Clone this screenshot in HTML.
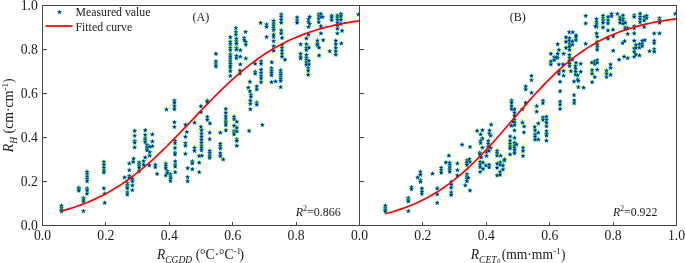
<!DOCTYPE html>
<html lang="en"><head><meta charset="utf-8"><title>Fitted curves</title>
<style>html,body{margin:0;padding:0;background:#fff}svg{display:block}</style></head>
<body>
<svg width="685" height="263" viewBox="0 0 685 263">
<defs><path id="s" d="M0.00,-2.10 L0.51,-0.60 L2.09,-0.58 L0.82,0.37 L1.29,1.88 L0.00,0.96 L-1.29,1.88 L-0.82,0.37 L-2.09,-0.58 L-0.51,-0.60 Z"/>
<clipPath id="ca"><rect x="42.5" y="5.5" width="317.0" height="220.0"/></clipPath>
<clipPath id="cb"><rect x="359.5" y="5.5" width="317.0" height="220.0"/></clipPath></defs>
<rect width="685" height="263" fill="#fff"/>
<g clip-path="url(#ca)" fill="#0000ff" stroke="#22ee22" stroke-width="0.9" paint-order="stroke" stroke-linejoin="miter">
<use href="#s" x="61.4" y="205.7"/>
<use href="#s" x="61.4" y="208.1"/>
<use href="#s" x="61.4" y="209.8"/>
<use href="#s" x="61.4" y="211.3"/>
<use href="#s" x="83.5" y="197.8"/>
<use href="#s" x="83.5" y="199.5"/>
<use href="#s" x="83.5" y="201.4"/>
<use href="#s" x="83.5" y="211.0"/>
<use href="#s" x="87.0" y="193.6"/>
<use href="#s" x="104.7" y="193.6"/>
<use href="#s" x="104.7" y="202.8"/>
<use href="#s" x="87.1" y="171.8"/>
<use href="#s" x="87.1" y="174.1"/>
<use href="#s" x="87.1" y="176.5"/>
<use href="#s" x="87.1" y="178.8"/>
<use href="#s" x="87.1" y="181.0"/>
<use href="#s" x="87.1" y="188.3"/>
<use href="#s" x="87.1" y="190.4"/>
<use href="#s" x="78.8" y="187.7"/>
<use href="#s" x="78.8" y="189.2"/>
<use href="#s" x="78.8" y="190.6"/>
<use href="#s" x="103.9" y="161.8"/>
<use href="#s" x="103.9" y="164.7"/>
<use href="#s" x="103.9" y="167.7"/>
<use href="#s" x="103.9" y="170.4"/>
<use href="#s" x="103.9" y="172.4"/>
<use href="#s" x="103.9" y="188.3"/>
<use href="#s" x="124.6" y="177.4"/>
<use href="#s" x="127.3" y="183.0"/>
<use href="#s" x="127.3" y="184.7"/>
<use href="#s" x="127.3" y="186.5"/>
<use href="#s" x="127.3" y="188.3"/>
<use href="#s" x="129.3" y="163.3"/>
<use href="#s" x="129.3" y="170.0"/>
<use href="#s" x="129.3" y="175.9"/>
<use href="#s" x="129.3" y="177.7"/>
<use href="#s" x="132.4" y="178.8"/>
<use href="#s" x="132.4" y="181.2"/>
<use href="#s" x="132.4" y="185.3"/>
<use href="#s" x="132.4" y="190.0"/>
<use href="#s" x="133.2" y="161.8"/>
<use href="#s" x="139.1" y="162.4"/>
<use href="#s" x="139.1" y="164.1"/>
<use href="#s" x="139.1" y="165.9"/>
<use href="#s" x="139.1" y="167.7"/>
<use href="#s" x="139.1" y="171.2"/>
<use href="#s" x="143.6" y="161.2"/>
<use href="#s" x="143.6" y="164.7"/>
<use href="#s" x="149.3" y="165.3"/>
<use href="#s" x="155.3" y="164.7"/>
<use href="#s" x="155.3" y="167.1"/>
<use href="#s" x="157.1" y="173.9"/>
<use href="#s" x="165.8" y="163.5"/>
<use href="#s" x="165.8" y="165.9"/>
<use href="#s" x="165.8" y="168.2"/>
<use href="#s" x="165.8" y="175.3"/>
<use href="#s" x="167.4" y="171.2"/>
<use href="#s" x="167.4" y="173.0"/>
<use href="#s" x="170.5" y="174.1"/>
<use href="#s" x="170.5" y="176.5"/>
<use href="#s" x="170.5" y="178.8"/>
<use href="#s" x="170.5" y="181.0"/>
<use href="#s" x="175.2" y="161.4"/>
<use href="#s" x="175.2" y="164.7"/>
<use href="#s" x="175.2" y="166.5"/>
<use href="#s" x="175.2" y="172.1"/>
<use href="#s" x="187.7" y="168.2"/>
<use href="#s" x="187.7" y="177.1"/>
<use href="#s" x="187.7" y="181.2"/>
<use href="#s" x="192.3" y="161.4"/>
<use href="#s" x="192.3" y="163.3"/>
<use href="#s" x="192.3" y="169.2"/>
<use href="#s" x="199.2" y="162.6"/>
<use href="#s" x="199.2" y="172.1"/>
<use href="#s" x="127.3" y="192.4"/>
<use href="#s" x="127.3" y="194.5"/>
<use href="#s" x="134.7" y="130.8"/>
<use href="#s" x="134.7" y="135.5"/>
<use href="#s" x="134.7" y="140.8"/>
<use href="#s" x="134.7" y="142.6"/>
<use href="#s" x="134.7" y="147.3"/>
<use href="#s" x="133.6" y="158.5"/>
<use href="#s" x="145.2" y="130.2"/>
<use href="#s" x="145.2" y="134.9"/>
<use href="#s" x="145.2" y="138.4"/>
<use href="#s" x="145.2" y="140.2"/>
<use href="#s" x="145.2" y="142.0"/>
<use href="#s" x="145.2" y="157.3"/>
<use href="#s" x="147.0" y="144.9"/>
<use href="#s" x="147.0" y="146.7"/>
<use href="#s" x="147.0" y="148.4"/>
<use href="#s" x="147.0" y="150.2"/>
<use href="#s" x="149.7" y="146.7"/>
<use href="#s" x="149.7" y="152.0"/>
<use href="#s" x="149.7" y="155.5"/>
<use href="#s" x="152.4" y="134.3"/>
<use href="#s" x="152.4" y="141.4"/>
<use href="#s" x="152.4" y="146.1"/>
<use href="#s" x="175.0" y="140.8"/>
<use href="#s" x="175.0" y="143.1"/>
<use href="#s" x="175.0" y="147.8"/>
<use href="#s" x="175.0" y="152.6"/>
<use href="#s" x="175.0" y="154.3"/>
<use href="#s" x="185.4" y="136.7"/>
<use href="#s" x="185.4" y="143.1"/>
<use href="#s" x="185.4" y="145.5"/>
<use href="#s" x="185.4" y="153.7"/>
<use href="#s" x="186.8" y="131.9"/>
<use href="#s" x="194.5" y="147.8"/>
<use href="#s" x="194.5" y="150.8"/>
<use href="#s" x="201.5" y="130.2"/>
<use href="#s" x="201.5" y="133.7"/>
<use href="#s" x="201.5" y="136.7"/>
<use href="#s" x="201.5" y="139.6"/>
<use href="#s" x="201.5" y="142.6"/>
<use href="#s" x="201.5" y="145.5"/>
<use href="#s" x="201.5" y="147.8"/>
<use href="#s" x="201.5" y="150.2"/>
<use href="#s" x="199.2" y="155.9"/>
<use href="#s" x="201.8" y="155.6"/>
<use href="#s" x="174.4" y="100.4"/>
<use href="#s" x="174.4" y="102.7"/>
<use href="#s" x="174.4" y="106.2"/>
<use href="#s" x="174.4" y="109.2"/>
<use href="#s" x="174.4" y="122.2"/>
<use href="#s" x="174.4" y="126.9"/>
<use href="#s" x="166.5" y="109.4"/>
<use href="#s" x="185.6" y="124.5"/>
<use href="#s" x="194.5" y="122.5"/>
<use href="#s" x="200.9" y="106.2"/>
<use href="#s" x="200.9" y="112.1"/>
<use href="#s" x="200.9" y="126.9"/>
<use href="#s" x="209.7" y="132.5"/>
<use href="#s" x="209.7" y="139.0"/>
<use href="#s" x="209.7" y="150.8"/>
<use href="#s" x="209.7" y="153.2"/>
<use href="#s" x="209.7" y="155.5"/>
<use href="#s" x="209.7" y="157.9"/>
<use href="#s" x="220.3" y="132.5"/>
<use href="#s" x="220.3" y="143.7"/>
<use href="#s" x="220.3" y="146.1"/>
<use href="#s" x="220.3" y="148.4"/>
<use href="#s" x="220.3" y="153.2"/>
<use href="#s" x="220.3" y="156.1"/>
<use href="#s" x="223.2" y="159.4"/>
<use href="#s" x="225.9" y="130.2"/>
<use href="#s" x="234.1" y="130.8"/>
<use href="#s" x="234.1" y="132.5"/>
<use href="#s" x="234.1" y="134.3"/>
<use href="#s" x="236.8" y="131.4"/>
<use href="#s" x="236.8" y="139.0"/>
<use href="#s" x="236.8" y="140.8"/>
<use href="#s" x="236.8" y="145.7"/>
<use href="#s" x="249.1" y="130.8"/>
<use href="#s" x="207.3" y="100.6"/>
<use href="#s" x="207.3" y="102.1"/>
<use href="#s" x="207.3" y="116.8"/>
<use href="#s" x="207.3" y="119.8"/>
<use href="#s" x="210.0" y="123.3"/>
<use href="#s" x="225.8" y="108.8"/>
<use href="#s" x="225.8" y="112.7"/>
<use href="#s" x="225.8" y="116.3"/>
<use href="#s" x="225.8" y="119.2"/>
<use href="#s" x="225.8" y="121.6"/>
<use href="#s" x="225.8" y="123.3"/>
<use href="#s" x="225.8" y="125.1"/>
<use href="#s" x="234.1" y="116.6"/>
<use href="#s" x="234.1" y="119.2"/>
<use href="#s" x="234.1" y="125.7"/>
<use href="#s" x="236.8" y="121.6"/>
<use href="#s" x="236.8" y="127.5"/>
<use href="#s" x="250.3" y="100.6"/>
<use href="#s" x="250.3" y="103.9"/>
<use href="#s" x="250.3" y="109.2"/>
<use href="#s" x="256.8" y="102.5"/>
<use href="#s" x="256.8" y="104.5"/>
<use href="#s" x="262.3" y="124.9"/>
<use href="#s" x="230.3" y="67.6"/>
<use href="#s" x="230.3" y="71.1"/>
<use href="#s" x="230.3" y="75.8"/>
<use href="#s" x="239.9" y="70.5"/>
<use href="#s" x="239.9" y="73.5"/>
<use href="#s" x="249.9" y="81.7"/>
<use href="#s" x="249.9" y="91.2"/>
<use href="#s" x="248.3" y="87.6"/>
<use href="#s" x="250.9" y="94.7"/>
<use href="#s" x="250.9" y="96.5"/>
<use href="#s" x="255.2" y="71.7"/>
<use href="#s" x="255.2" y="73.5"/>
<use href="#s" x="256.8" y="86.4"/>
<use href="#s" x="256.8" y="89.4"/>
<use href="#s" x="261.1" y="69.6"/>
<use href="#s" x="261.1" y="72.9"/>
<use href="#s" x="261.1" y="75.8"/>
<use href="#s" x="261.1" y="78.2"/>
<use href="#s" x="261.1" y="82.1"/>
<use href="#s" x="271.5" y="68.2"/>
<use href="#s" x="271.5" y="70.5"/>
<use href="#s" x="271.5" y="72.9"/>
<use href="#s" x="271.5" y="75.2"/>
<use href="#s" x="271.5" y="82.1"/>
<use href="#s" x="275.6" y="81.4"/>
<use href="#s" x="280.7" y="70.3"/>
<use href="#s" x="280.7" y="72.9"/>
<use href="#s" x="280.7" y="74.7"/>
<use href="#s" x="280.7" y="77.0"/>
<use href="#s" x="280.7" y="78.8"/>
<use href="#s" x="280.7" y="80.9"/>
<use href="#s" x="280.7" y="87.0"/>
<use href="#s" x="215.9" y="53.7"/>
<use href="#s" x="215.9" y="61.3"/>
<use href="#s" x="215.9" y="64.3"/>
<use href="#s" x="215.9" y="66.4"/>
<use href="#s" x="230.3" y="37.2"/>
<use href="#s" x="230.3" y="41.7"/>
<use href="#s" x="230.3" y="44.0"/>
<use href="#s" x="230.3" y="47.8"/>
<use href="#s" x="230.3" y="50.1"/>
<use href="#s" x="230.3" y="54.3"/>
<use href="#s" x="230.3" y="56.6"/>
<use href="#s" x="230.3" y="59.0"/>
<use href="#s" x="230.3" y="61.3"/>
<use href="#s" x="230.3" y="63.7"/>
<use href="#s" x="230.3" y="66.0"/>
<use href="#s" x="236.4" y="38.6"/>
<use href="#s" x="236.4" y="41.3"/>
<use href="#s" x="236.4" y="43.7"/>
<use href="#s" x="236.4" y="47.8"/>
<use href="#s" x="236.4" y="49.5"/>
<use href="#s" x="236.4" y="55.8"/>
<use href="#s" x="236.4" y="58.1"/>
<use href="#s" x="240.3" y="50.1"/>
<use href="#s" x="240.3" y="56.6"/>
<use href="#s" x="240.3" y="64.3"/>
<use href="#s" x="244.2" y="37.8"/>
<use href="#s" x="244.2" y="40.1"/>
<use href="#s" x="245.8" y="41.9"/>
<use href="#s" x="245.8" y="44.5"/>
<use href="#s" x="245.8" y="58.4"/>
<use href="#s" x="255.2" y="63.7"/>
<use href="#s" x="261.1" y="61.3"/>
<use href="#s" x="261.1" y="63.7"/>
<use href="#s" x="266.6" y="36.9"/>
<use href="#s" x="271.8" y="62.2"/>
<use href="#s" x="273.6" y="36.9"/>
<use href="#s" x="273.6" y="41.0"/>
<use href="#s" x="273.6" y="46.0"/>
<use href="#s" x="273.6" y="50.7"/>
<use href="#s" x="282.0" y="37.8"/>
<use href="#s" x="282.0" y="44.8"/>
<use href="#s" x="282.0" y="47.8"/>
<use href="#s" x="282.0" y="50.7"/>
<use href="#s" x="282.0" y="53.7"/>
<use href="#s" x="282.0" y="56.6"/>
<use href="#s" x="285.0" y="59.6"/>
<use href="#s" x="235.9" y="28.0"/>
<use href="#s" x="235.9" y="32.1"/>
<use href="#s" x="235.9" y="34.5"/>
<use href="#s" x="245.6" y="31.9"/>
<use href="#s" x="260.6" y="22.9"/>
<use href="#s" x="266.6" y="24.4"/>
<use href="#s" x="266.6" y="26.8"/>
<use href="#s" x="273.6" y="20.9"/>
<use href="#s" x="273.6" y="23.3"/>
<use href="#s" x="273.6" y="25.6"/>
<use href="#s" x="273.6" y="28.0"/>
<use href="#s" x="273.6" y="30.0"/>
<use href="#s" x="273.6" y="34.5"/>
<use href="#s" x="281.2" y="14.4"/>
<use href="#s" x="281.2" y="16.8"/>
<use href="#s" x="281.2" y="19.7"/>
<use href="#s" x="281.2" y="22.7"/>
<use href="#s" x="281.2" y="30.3"/>
<use href="#s" x="281.2" y="33.3"/>
<use href="#s" x="297.1" y="17.4"/>
<use href="#s" x="297.1" y="20.3"/>
<use href="#s" x="297.1" y="22.7"/>
<use href="#s" x="308.5" y="19.1"/>
<use href="#s" x="308.5" y="22.1"/>
<use href="#s" x="308.5" y="26.8"/>
<use href="#s" x="308.5" y="34.5"/>
<use href="#s" x="309.7" y="16.8"/>
<use href="#s" x="309.7" y="23.9"/>
<use href="#s" x="318.8" y="14.2"/>
<use href="#s" x="318.8" y="16.2"/>
<use href="#s" x="318.8" y="18.6"/>
<use href="#s" x="318.8" y="22.1"/>
<use href="#s" x="320.9" y="13.8"/>
<use href="#s" x="320.9" y="16.8"/>
<use href="#s" x="320.9" y="26.2"/>
<use href="#s" x="320.9" y="33.3"/>
<use href="#s" x="322.6" y="16.8"/>
<use href="#s" x="331.7" y="15.6"/>
<use href="#s" x="331.7" y="17.4"/>
<use href="#s" x="331.7" y="20.1"/>
<use href="#s" x="337.4" y="15.4"/>
<use href="#s" x="337.4" y="17.4"/>
<use href="#s" x="337.4" y="19.7"/>
<use href="#s" x="337.4" y="22.7"/>
<use href="#s" x="337.4" y="25.6"/>
<use href="#s" x="337.4" y="28.6"/>
<use href="#s" x="337.4" y="33.3"/>
<use href="#s" x="340.9" y="13.8"/>
<use href="#s" x="340.9" y="16.2"/>
<use href="#s" x="340.9" y="19.7"/>
<use href="#s" x="340.9" y="23.9"/>
<use href="#s" x="342.1" y="30.7"/>
<use href="#s" x="358.6" y="14.4"/>
<use href="#s" x="300.6" y="44.2"/>
<use href="#s" x="300.6" y="53.7"/>
<use href="#s" x="300.6" y="56.6"/>
<use href="#s" x="300.6" y="58.4"/>
<use href="#s" x="306.4" y="38.4"/>
<use href="#s" x="306.4" y="44.0"/>
<use href="#s" x="306.4" y="47.8"/>
<use href="#s" x="306.4" y="50.1"/>
<use href="#s" x="306.4" y="54.9"/>
<use href="#s" x="306.4" y="57.8"/>
<use href="#s" x="306.4" y="60.1"/>
<use href="#s" x="306.4" y="62.5"/>
<use href="#s" x="306.4" y="64.9"/>
<use href="#s" x="308.9" y="47.5"/>
<use href="#s" x="308.9" y="60.7"/>
<use href="#s" x="308.9" y="64.3"/>
<use href="#s" x="317.4" y="40.5"/>
<use href="#s" x="317.4" y="43.7"/>
<use href="#s" x="317.4" y="45.4"/>
<use href="#s" x="319.1" y="47.5"/>
<use href="#s" x="319.1" y="55.4"/>
<use href="#s" x="323.2" y="40.1"/>
<use href="#s" x="329.7" y="51.1"/>
<use href="#s" x="335.8" y="40.7"/>
<use href="#s" x="335.8" y="44.2"/>
<use href="#s" x="335.8" y="47.8"/>
<use href="#s" x="335.8" y="51.3"/>
<use href="#s" x="335.8" y="54.6"/>
<use href="#s" x="341.3" y="43.3"/>
<use href="#s" x="308.2" y="68.2"/>
<use href="#s" x="308.2" y="70.5"/>
<use href="#s" x="308.2" y="74.7"/>
</g>
<g clip-path="url(#cb)" fill="#0000ff" stroke="#22ee22" stroke-width="0.9" paint-order="stroke" stroke-linejoin="miter">
<use href="#s" x="385.3" y="205.7"/>
<use href="#s" x="385.3" y="208.1"/>
<use href="#s" x="385.3" y="209.6"/>
<use href="#s" x="385.3" y="211.3"/>
<use href="#s" x="408.3" y="197.8"/>
<use href="#s" x="408.3" y="199.5"/>
<use href="#s" x="408.3" y="201.4"/>
<use href="#s" x="408.3" y="211.0"/>
<use href="#s" x="421.9" y="193.9"/>
<use href="#s" x="421.9" y="191.6"/>
<use href="#s" x="437.2" y="194.3"/>
<use href="#s" x="437.2" y="202.8"/>
<use href="#s" x="420.4" y="171.8"/>
<use href="#s" x="420.4" y="174.7"/>
<use href="#s" x="420.4" y="180.0"/>
<use href="#s" x="420.4" y="181.8"/>
<use href="#s" x="417.7" y="177.4"/>
<use href="#s" x="411.5" y="187.1"/>
<use href="#s" x="411.5" y="189.2"/>
<use href="#s" x="421.9" y="188.3"/>
<use href="#s" x="432.5" y="173.6"/>
<use href="#s" x="437.2" y="188.3"/>
<use href="#s" x="441.2" y="167.7"/>
<use href="#s" x="441.2" y="170.0"/>
<use href="#s" x="441.2" y="172.7"/>
<use href="#s" x="445.9" y="162.4"/>
<use href="#s" x="449.7" y="162.6"/>
<use href="#s" x="449.7" y="164.9"/>
<use href="#s" x="449.7" y="167.3"/>
<use href="#s" x="449.7" y="169.7"/>
<use href="#s" x="449.7" y="171.8"/>
<use href="#s" x="451.2" y="181.8"/>
<use href="#s" x="451.2" y="184.7"/>
<use href="#s" x="451.2" y="187.7"/>
<use href="#s" x="457.4" y="163.3"/>
<use href="#s" x="457.4" y="170.0"/>
<use href="#s" x="457.4" y="175.3"/>
<use href="#s" x="466.9" y="160.3"/>
<use href="#s" x="466.9" y="162.6"/>
<use href="#s" x="466.9" y="164.9"/>
<use href="#s" x="466.9" y="174.1"/>
<use href="#s" x="466.9" y="176.5"/>
<use href="#s" x="466.9" y="178.8"/>
<use href="#s" x="466.9" y="181.2"/>
<use href="#s" x="465.3" y="185.3"/>
<use href="#s" x="468.3" y="177.7"/>
<use href="#s" x="470.0" y="161.8"/>
<use href="#s" x="470.0" y="190.4"/>
<use href="#s" x="480.1" y="161.8"/>
<use href="#s" x="480.1" y="164.7"/>
<use href="#s" x="480.1" y="167.1"/>
<use href="#s" x="480.1" y="171.8"/>
<use href="#s" x="483.0" y="162.4"/>
<use href="#s" x="483.0" y="168.8"/>
<use href="#s" x="485.9" y="165.3"/>
<use href="#s" x="489.2" y="164.7"/>
<use href="#s" x="489.2" y="167.3"/>
<use href="#s" x="497.1" y="163.5"/>
<use href="#s" x="497.1" y="167.7"/>
<use href="#s" x="497.1" y="175.3"/>
<use href="#s" x="500.1" y="162.4"/>
<use href="#s" x="500.1" y="164.7"/>
<use href="#s" x="500.1" y="171.8"/>
<use href="#s" x="500.1" y="174.7"/>
<use href="#s" x="503.0" y="165.3"/>
<use href="#s" x="503.0" y="169.4"/>
<use href="#s" x="504.2" y="160.6"/>
<use href="#s" x="451.2" y="192.4"/>
<use href="#s" x="451.2" y="194.8"/>
<use href="#s" x="448.8" y="155.5"/>
<use href="#s" x="462.1" y="144.6"/>
<use href="#s" x="470.0" y="146.9"/>
<use href="#s" x="469.5" y="159.0"/>
<use href="#s" x="477.1" y="130.8"/>
<use href="#s" x="482.4" y="130.2"/>
<use href="#s" x="482.4" y="138.4"/>
<use href="#s" x="482.4" y="147.6"/>
<use href="#s" x="480.6" y="134.3"/>
<use href="#s" x="480.6" y="140.8"/>
<use href="#s" x="480.6" y="143.1"/>
<use href="#s" x="479.8" y="152.6"/>
<use href="#s" x="479.8" y="154.3"/>
<use href="#s" x="481.2" y="157.3"/>
<use href="#s" x="489.5" y="130.4"/>
<use href="#s" x="489.5" y="133.7"/>
<use href="#s" x="488.3" y="140.8"/>
<use href="#s" x="488.3" y="143.7"/>
<use href="#s" x="488.3" y="146.7"/>
<use href="#s" x="490.7" y="135.5"/>
<use href="#s" x="490.7" y="147.8"/>
<use href="#s" x="486.5" y="152.0"/>
<use href="#s" x="486.5" y="155.9"/>
<use href="#s" x="488.9" y="150.8"/>
<use href="#s" x="497.1" y="150.8"/>
<use href="#s" x="497.1" y="153.2"/>
<use href="#s" x="497.1" y="155.5"/>
<use href="#s" x="500.7" y="155.5"/>
<use href="#s" x="504.6" y="159.4"/>
<use href="#s" x="510.1" y="136.3"/>
<use href="#s" x="510.1" y="140.6"/>
<use href="#s" x="510.1" y="143.7"/>
<use href="#s" x="510.1" y="146.4"/>
<use href="#s" x="510.1" y="148.4"/>
<use href="#s" x="510.1" y="154.3"/>
<use href="#s" x="514.5" y="130.4"/>
<use href="#s" x="514.5" y="137.8"/>
<use href="#s" x="514.5" y="142.6"/>
<use href="#s" x="514.5" y="145.5"/>
<use href="#s" x="514.5" y="147.8"/>
<use href="#s" x="514.5" y="150.2"/>
<use href="#s" x="514.5" y="153.2"/>
<use href="#s" x="516.6" y="144.3"/>
<use href="#s" x="491.2" y="124.5"/>
<use href="#s" x="511.6" y="100.4"/>
<use href="#s" x="511.6" y="102.7"/>
<use href="#s" x="511.6" y="106.2"/>
<use href="#s" x="511.6" y="109.2"/>
<use href="#s" x="514.5" y="109.2"/>
<use href="#s" x="514.5" y="112.7"/>
<use href="#s" x="514.5" y="115.7"/>
<use href="#s" x="514.5" y="119.8"/>
<use href="#s" x="514.5" y="122.7"/>
<use href="#s" x="514.5" y="125.1"/>
<use href="#s" x="511.3" y="125.7"/>
<use href="#s" x="513.0" y="121.6"/>
<use href="#s" x="523.9" y="132.3"/>
<use href="#s" x="523.0" y="147.8"/>
<use href="#s" x="523.0" y="150.8"/>
<use href="#s" x="523.0" y="155.9"/>
<use href="#s" x="535.1" y="130.2"/>
<use href="#s" x="535.1" y="134.3"/>
<use href="#s" x="535.1" y="136.7"/>
<use href="#s" x="535.1" y="139.6"/>
<use href="#s" x="538.3" y="132.5"/>
<use href="#s" x="538.3" y="139.4"/>
<use href="#s" x="546.5" y="131.1"/>
<use href="#s" x="546.5" y="133.7"/>
<use href="#s" x="546.5" y="135.5"/>
<use href="#s" x="546.5" y="140.6"/>
<use href="#s" x="525.7" y="102.7"/>
<use href="#s" x="522.4" y="109.2"/>
<use href="#s" x="522.4" y="122.5"/>
<use href="#s" x="524.1" y="126.3"/>
<use href="#s" x="536.7" y="106.0"/>
<use href="#s" x="536.7" y="111.5"/>
<use href="#s" x="543.0" y="100.6"/>
<use href="#s" x="543.0" y="103.0"/>
<use href="#s" x="543.0" y="117.4"/>
<use href="#s" x="543.0" y="119.8"/>
<use href="#s" x="538.3" y="123.3"/>
<use href="#s" x="534.7" y="126.9"/>
<use href="#s" x="546.5" y="116.6"/>
<use href="#s" x="546.5" y="119.8"/>
<use href="#s" x="546.5" y="122.7"/>
<use href="#s" x="546.5" y="126.3"/>
<use href="#s" x="560.1" y="101.5"/>
<use href="#s" x="560.1" y="104.5"/>
<use href="#s" x="560.1" y="108.8"/>
<use href="#s" x="574.2" y="100.4"/>
<use href="#s" x="574.2" y="103.0"/>
<use href="#s" x="531.5" y="75.8"/>
<use href="#s" x="531.5" y="80.0"/>
<use href="#s" x="531.5" y="92.7"/>
<use href="#s" x="525.7" y="86.4"/>
<use href="#s" x="525.7" y="89.4"/>
<use href="#s" x="558.9" y="71.1"/>
<use href="#s" x="558.9" y="73.8"/>
<use href="#s" x="563.6" y="70.8"/>
<use href="#s" x="563.6" y="75.5"/>
<use href="#s" x="560.1" y="81.7"/>
<use href="#s" x="560.1" y="91.2"/>
<use href="#s" x="570.9" y="71.1"/>
<use href="#s" x="575.6" y="68.8"/>
<use href="#s" x="575.6" y="71.7"/>
<use href="#s" x="575.6" y="74.7"/>
<use href="#s" x="577.7" y="75.0"/>
<use href="#s" x="577.7" y="79.4"/>
<use href="#s" x="580.7" y="71.7"/>
<use href="#s" x="574.0" y="81.4"/>
<use href="#s" x="574.0" y="95.0"/>
<use href="#s" x="578.3" y="80.9"/>
<use href="#s" x="578.3" y="87.0"/>
<use href="#s" x="583.6" y="87.6"/>
<use href="#s" x="592.1" y="70.0"/>
<use href="#s" x="592.1" y="73.5"/>
<use href="#s" x="592.1" y="82.1"/>
<use href="#s" x="594.8" y="77.0"/>
<use href="#s" x="597.2" y="69.6"/>
<use href="#s" x="550.9" y="53.7"/>
<use href="#s" x="550.9" y="61.3"/>
<use href="#s" x="550.9" y="64.3"/>
<use href="#s" x="554.2" y="57.0"/>
<use href="#s" x="554.2" y="60.1"/>
<use href="#s" x="557.7" y="44.2"/>
<use href="#s" x="557.7" y="53.7"/>
<use href="#s" x="557.7" y="57.8"/>
<use href="#s" x="558.9" y="49.9"/>
<use href="#s" x="558.9" y="64.3"/>
<use href="#s" x="556.5" y="57.2"/>
<use href="#s" x="563.6" y="53.7"/>
<use href="#s" x="563.0" y="64.3"/>
<use href="#s" x="566.0" y="37.2"/>
<use href="#s" x="566.0" y="41.7"/>
<use href="#s" x="566.0" y="47.8"/>
<use href="#s" x="569.5" y="38.1"/>
<use href="#s" x="569.5" y="40.7"/>
<use href="#s" x="569.5" y="44.0"/>
<use href="#s" x="569.5" y="46.6"/>
<use href="#s" x="569.5" y="49.9"/>
<use href="#s" x="569.5" y="54.9"/>
<use href="#s" x="569.5" y="57.8"/>
<use href="#s" x="569.5" y="60.7"/>
<use href="#s" x="569.5" y="63.7"/>
<use href="#s" x="569.5" y="66.0"/>
<use href="#s" x="572.4" y="41.3"/>
<use href="#s" x="572.4" y="44.5"/>
<use href="#s" x="572.4" y="59.6"/>
<use href="#s" x="576.0" y="37.2"/>
<use href="#s" x="576.0" y="40.1"/>
<use href="#s" x="576.0" y="62.9"/>
<use href="#s" x="575.4" y="66.0"/>
<use href="#s" x="580.7" y="63.7"/>
<use href="#s" x="585.7" y="43.7"/>
<use href="#s" x="591.9" y="62.5"/>
<use href="#s" x="594.8" y="61.3"/>
<use href="#s" x="594.8" y="64.0"/>
<use href="#s" x="597.2" y="36.6"/>
<use href="#s" x="597.2" y="41.9"/>
<use href="#s" x="597.2" y="44.5"/>
<use href="#s" x="597.2" y="47.2"/>
<use href="#s" x="597.2" y="49.5"/>
<use href="#s" x="597.2" y="60.1"/>
<use href="#s" x="597.2" y="62.5"/>
<use href="#s" x="569.2" y="32.1"/>
<use href="#s" x="572.8" y="32.1"/>
<use href="#s" x="576.0" y="35.4"/>
<use href="#s" x="585.7" y="15.8"/>
<use href="#s" x="585.7" y="23.3"/>
<use href="#s" x="596.6" y="19.1"/>
<use href="#s" x="596.6" y="22.1"/>
<use href="#s" x="596.6" y="24.4"/>
<use href="#s" x="596.6" y="26.8"/>
<use href="#s" x="596.6" y="33.3"/>
<use href="#s" x="595.4" y="26.2"/>
<use href="#s" x="603.0" y="15.6"/>
<use href="#s" x="603.0" y="18.0"/>
<use href="#s" x="603.0" y="20.3"/>
<use href="#s" x="603.0" y="22.7"/>
<use href="#s" x="603.0" y="27.4"/>
<use href="#s" x="608.0" y="16.8"/>
<use href="#s" x="608.0" y="20.3"/>
<use href="#s" x="608.0" y="23.3"/>
<use href="#s" x="608.0" y="30.3"/>
<use href="#s" x="611.5" y="13.8"/>
<use href="#s" x="611.5" y="16.2"/>
<use href="#s" x="613.0" y="29.5"/>
<use href="#s" x="617.4" y="13.8"/>
<use href="#s" x="620.0" y="17.4"/>
<use href="#s" x="620.0" y="19.7"/>
<use href="#s" x="620.0" y="22.7"/>
<use href="#s" x="623.0" y="15.4"/>
<use href="#s" x="623.0" y="18.6"/>
<use href="#s" x="623.0" y="20.9"/>
<use href="#s" x="623.0" y="23.6"/>
<use href="#s" x="625.3" y="22.7"/>
<use href="#s" x="625.3" y="27.4"/>
<use href="#s" x="625.3" y="29.1"/>
<use href="#s" x="627.7" y="28.0"/>
<use href="#s" x="627.7" y="33.9"/>
<use href="#s" x="634.2" y="15.0"/>
<use href="#s" x="634.2" y="16.8"/>
<use href="#s" x="634.2" y="26.2"/>
<use href="#s" x="634.2" y="28.0"/>
<use href="#s" x="634.2" y="33.3"/>
<use href="#s" x="640.1" y="13.5"/>
<use href="#s" x="640.1" y="16.8"/>
<use href="#s" x="640.1" y="19.1"/>
<use href="#s" x="640.1" y="22.1"/>
<use href="#s" x="644.2" y="16.8"/>
<use href="#s" x="644.2" y="20.3"/>
<use href="#s" x="644.2" y="26.8"/>
<use href="#s" x="646.5" y="15.6"/>
<use href="#s" x="646.5" y="18.0"/>
<use href="#s" x="654.2" y="33.3"/>
<use href="#s" x="659.5" y="18.0"/>
<use href="#s" x="659.5" y="20.3"/>
<use href="#s" x="659.5" y="22.7"/>
<use href="#s" x="659.5" y="33.3"/>
<use href="#s" x="675.4" y="13.8"/>
<use href="#s" x="608.0" y="38.6"/>
<use href="#s" x="613.2" y="36.2"/>
<use href="#s" x="613.2" y="50.7"/>
<use href="#s" x="624.7" y="41.0"/>
<use href="#s" x="622.6" y="43.1"/>
<use href="#s" x="610.6" y="64.3"/>
<use href="#s" x="619.1" y="59.6"/>
<use href="#s" x="624.1" y="56.6"/>
<use href="#s" x="627.7" y="58.0"/>
<use href="#s" x="634.2" y="40.7"/>
<use href="#s" x="634.2" y="48.4"/>
<use href="#s" x="634.2" y="51.9"/>
<use href="#s" x="634.2" y="56.6"/>
<use href="#s" x="635.9" y="44.8"/>
<use href="#s" x="635.9" y="47.8"/>
<use href="#s" x="635.9" y="54.3"/>
<use href="#s" x="639.5" y="44.0"/>
<use href="#s" x="639.5" y="47.5"/>
<use href="#s" x="639.5" y="55.4"/>
<use href="#s" x="642.2" y="40.7"/>
<use href="#s" x="642.2" y="43.7"/>
<use href="#s" x="642.2" y="46.0"/>
<use href="#s" x="644.8" y="40.1"/>
<use href="#s" x="649.5" y="51.1"/>
<use href="#s" x="654.2" y="40.7"/>
<use href="#s" x="654.2" y="43.1"/>
<use href="#s" x="654.2" y="49.0"/>
<use href="#s" x="654.2" y="51.5"/>
<use href="#s" x="610.6" y="67.9"/>
<use href="#s" x="610.6" y="74.7"/>
<use href="#s" x="606.5" y="70.5"/>
<use href="#s" x="606.5" y="73.5"/>
<use href="#s" x="606.5" y="77.0"/>
</g>
<path d="M61.4,211.1 L65.2,210.0 L68.9,208.9 L72.7,207.7 L76.5,206.5 L80.3,205.1 L84.0,203.7 L87.8,202.2 L91.6,200.6 L95.4,198.9 L99.1,197.1 L102.9,195.2 L106.7,193.2 L110.5,191.1 L114.2,188.8 L118.0,186.5 L121.8,184.1 L125.5,181.5 L129.3,178.8 L133.1,176.0 L136.9,173.1 L140.6,170.1 L144.4,166.9 L148.2,163.7 L152.0,160.3 L155.7,156.9 L159.5,153.4 L163.3,149.7 L167.1,146.0 L170.8,142.2 L174.6,138.4 L178.4,134.5 L182.1,130.6 L185.9,126.6 L189.7,122.6 L193.5,118.7 L197.2,114.7 L201.0,110.7 L204.8,106.7 L208.6,102.8 L212.3,99.0 L216.1,95.1 L219.9,91.4 L223.7,87.7 L227.4,84.1 L231.2,80.6 L235.0,77.2 L238.8,73.9 L242.5,70.7 L246.3,67.6 L250.1,64.6 L253.8,61.8 L257.6,59.0 L261.4,56.4 L265.2,53.8 L268.9,51.4 L272.7,49.1 L276.5,47.0 L280.3,44.9 L284.0,42.9 L287.8,41.1 L291.6,39.3 L295.4,37.7 L299.1,36.1 L302.9,34.6 L306.7,33.2 L310.4,31.9 L314.2,30.7 L318.0,29.5 L321.8,28.4 L325.5,27.4 L329.3,26.5 L333.1,25.6 L336.9,24.7 L340.6,24.0 L344.4,23.2 L348.2,22.6 L352.0,21.9 L355.7,21.3 L359.5,20.8" fill="none" stroke="#ff0000" stroke-width="1.7" stroke-linecap="butt" stroke-linejoin="round"/>
<path d="M385.3,213.7 L389.0,212.7 L392.7,211.7 L396.4,210.6 L400.0,209.4 L403.7,208.1 L407.4,206.7 L411.1,205.3 L414.8,203.7 L418.5,202.0 L422.2,200.3 L425.8,198.4 L429.5,196.4 L433.2,194.3 L436.9,192.1 L440.6,189.7 L444.3,187.2 L448.0,184.6 L451.6,181.8 L455.3,178.9 L459.0,175.9 L462.7,172.8 L466.4,169.5 L470.1,166.1 L473.8,162.5 L477.5,158.9 L481.1,155.1 L484.8,151.3 L488.5,147.3 L492.2,143.3 L495.9,139.2 L499.6,135.0 L503.3,130.8 L506.9,126.5 L510.6,122.2 L514.3,117.9 L518.0,113.6 L521.7,109.4 L525.4,105.1 L529.1,100.9 L532.7,96.8 L536.4,92.7 L540.1,88.8 L543.8,84.9 L547.5,81.1 L551.2,77.4 L554.9,73.9 L558.5,70.4 L562.2,67.1 L565.9,63.9 L569.6,60.9 L573.3,57.9 L577.0,55.1 L580.7,52.5 L584.3,50.0 L588.0,47.6 L591.7,45.3 L595.4,43.2 L599.1,41.1 L602.8,39.2 L606.5,37.4 L610.2,35.8 L613.8,34.2 L617.5,32.7 L621.2,31.3 L624.9,30.0 L628.6,28.8 L632.3,27.7 L636.0,26.6 L639.6,25.6 L643.3,24.7 L647.0,23.8 L650.7,23.0 L654.4,22.3 L658.1,21.6 L661.8,21.0 L665.4,20.4 L669.1,19.8 L672.8,19.3 L676.5,18.9" fill="none" stroke="#ff0000" stroke-width="1.7" stroke-linecap="butt" stroke-linejoin="round"/>
<g stroke="#444" stroke-width="1" fill="none" shape-rendering="crispEdges">
<rect x="42.5" y="5.5" width="634.0" height="220.0"/>
<line x1="359.5" y1="5.5" x2="359.5" y2="225.5"/>
<line x1="105.9" y1="225.5" x2="105.9" y2="221.5"/>
<line x1="422.9" y1="225.5" x2="422.9" y2="221.5"/>
<line x1="42.5" y1="181.5" x2="46.5" y2="181.5"/>
<line x1="359.5" y1="181.5" x2="363.5" y2="181.5"/>
<line x1="169.3" y1="225.5" x2="169.3" y2="221.5"/>
<line x1="486.3" y1="225.5" x2="486.3" y2="221.5"/>
<line x1="42.5" y1="137.5" x2="46.5" y2="137.5"/>
<line x1="359.5" y1="137.5" x2="363.5" y2="137.5"/>
<line x1="232.7" y1="225.5" x2="232.7" y2="221.5"/>
<line x1="549.7" y1="225.5" x2="549.7" y2="221.5"/>
<line x1="42.5" y1="93.5" x2="46.5" y2="93.5"/>
<line x1="359.5" y1="93.5" x2="363.5" y2="93.5"/>
<line x1="296.1" y1="225.5" x2="296.1" y2="221.5"/>
<line x1="613.1" y1="225.5" x2="613.1" y2="221.5"/>
<line x1="42.5" y1="49.5" x2="46.5" y2="49.5"/>
<line x1="359.5" y1="49.5" x2="363.5" y2="49.5"/>
</g>
<g font-family="'Liberation Serif', 'Times New Roman', serif" font-size="13.7" fill="#1a1a1a">
<text x="37.8" y="230.1" text-anchor="end">0.0</text>
<text x="37.8" y="186.1" text-anchor="end">0.2</text>
<text x="37.8" y="142.1" text-anchor="end">0.4</text>
<text x="37.8" y="98.1" text-anchor="end">0.6</text>
<text x="37.8" y="54.1" text-anchor="end">0.8</text>
<text x="37.8" y="10.1" text-anchor="end">1.0</text>
<text x="42.5" y="240" text-anchor="middle">0.0</text>
<text x="105.9" y="240" text-anchor="middle">0.2</text>
<text x="169.3" y="240" text-anchor="middle">0.4</text>
<text x="232.7" y="240" text-anchor="middle">0.6</text>
<text x="296.1" y="240" text-anchor="middle">0.8</text>
<text x="359.5" y="240" text-anchor="middle">0.0</text>
<text x="422.9" y="240" text-anchor="middle">0.2</text>
<text x="486.3" y="240" text-anchor="middle">0.4</text>
<text x="549.7" y="240" text-anchor="middle">0.6</text>
<text x="613.1" y="240" text-anchor="middle">0.8</text>
<text x="676.5" y="240" text-anchor="middle">1.0</text>
<use href="#s" x="59.5" y="12.0" fill="#0000ff" stroke="#22ee22" stroke-width="0.9" paint-order="stroke"/>
<line x1="45.5" y1="26" x2="72.5" y2="26" stroke="#ff0000" stroke-width="1.7"/>
<text x="75.5" y="16.3" font-size="11.8">Measured value</text>
<text x="75.5" y="30.8" font-size="11.8">Fitted curve</text>
<text x="200.8" y="20.8" text-anchor="middle" font-size="12.1">(A)</text>
<text x="517.8" y="20.8" text-anchor="middle" font-size="12.1">(B)</text>
<text x="295.7" y="215.5" font-size="12"><tspan font-style="italic">R</tspan><tspan font-size="8" dy="-4.5">2</tspan><tspan dy="4.5">=0.866</tspan></text>
<text x="612.9" y="215.5" font-size="11.8"><tspan font-style="italic">R</tspan><tspan font-size="8" dy="-4.5">2</tspan><tspan dy="4.5">=0.922</tspan></text>
<text x="156.9" y="258.6" font-size="13.6"><tspan font-style="italic">R</tspan><tspan font-style="italic" font-size="9.5" dy="4.3">CGDD</tspan><tspan dy="-4.3" dx="3.6">(</tspan><tspan dx="-0.3">°C·°C</tspan><tspan font-size="9" dy="-5" dx="0">-1</tspan><tspan dy="5" dx="-1.4">)</tspan></text>
<text x="470.8" y="258.6" font-size="13.6"><tspan font-style="italic">R</tspan><tspan font-style="italic" font-size="9.6" dy="4.3">CET</tspan><tspan font-style="italic" font-size="7" dy="0.3">0</tspan><tspan dy="-4.6" dx="1.6">(</tspan><tspan dx="-0.2">mm·mm</tspan><tspan font-size="9" dy="-5" dx="0.2">-1</tspan><tspan dy="5" dx="0.2">)</tspan></text>
<text transform="translate(12.6,152.2) rotate(-90)" font-size="13.8"><tspan font-style="italic">R</tspan><tspan font-style="italic" font-size="9.5" dy="4.2">H</tspan><tspan dy="-4.2"> (cm·cm</tspan><tspan font-size="9" dy="-5">-1</tspan><tspan dy="5">)</tspan></text>
</g>
</svg>
</body></html>
